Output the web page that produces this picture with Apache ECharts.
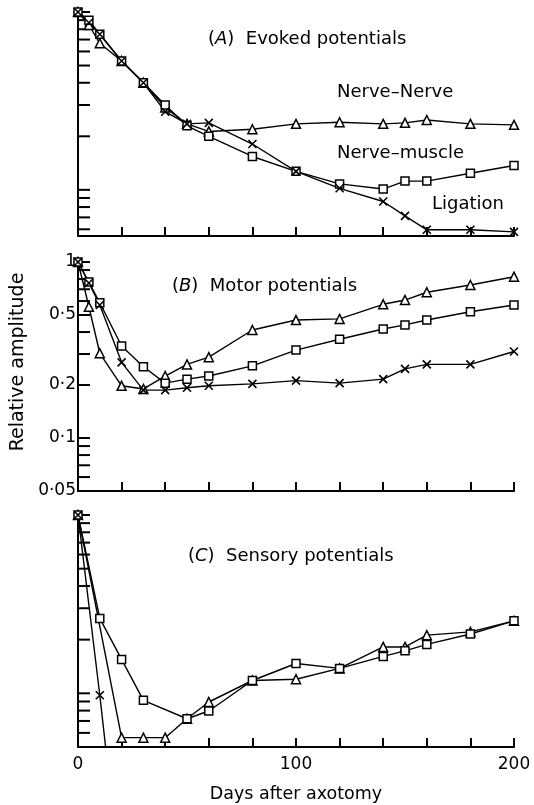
<!DOCTYPE html>
<html>
<head>
<meta charset="utf-8">
<title>Potentials after axotomy</title>
<script src="https://cdn.jsdelivr.net/npm/echarts@6/dist/echarts.min.js"></script>
<style>
  html, body { margin: 0; padding: 0; background: #fff; }
  #chart { width: 534px; height: 805px; }
</style>
</head>
<body>
<div id="chart"></div>
<script>
// days after axotomy
var daysAB = [0, 5, 10, 20, 30, 40, 50, 60, 80, 100, 120, 140, 150, 160, 180, 200];

// (A) evoked potentials
var evokedNerve  = [1, 0.845, 0.667, 0.53, 0.40, 0.29, 0.235, 0.213, 0.219, 0.235, 0.24, 0.235, 0.238, 0.247, 0.235, 0.232];
var evokedMuscle = [1, 0.90, 0.75, 0.53, 0.40, 0.30, 0.229, 0.20, 0.154, 0.127, 0.108, 0.101, 0.112, 0.112, 0.124, 0.137];
var evokedLig    = [1, 0.87, 0.75, 0.53, 0.40, 0.275, 0.235, 0.238, 0.181, 0.127, 0.102, 0.086, 0.0714, 0.0596, 0.0596, 0.058];

// (B) motor potentials
var motorNerve  = [1, 0.557, 0.303, 0.198, 0.19, 0.225, 0.262, 0.288, 0.411, 0.468, 0.475, 0.575, 0.608, 0.673, 0.74, 0.825];
var motorMuscle = [1, 0.77, 0.587, 0.333, 0.254, 0.205, 0.216, 0.225, 0.257, 0.316, 0.364, 0.416, 0.439, 0.468, 0.522, 0.57];
var motorLig    = [1, 0.76, 0.57, 0.269, 0.187, 0.187, 0.193, 0.198, 0.203, 0.212, 0.205, 0.216, 0.247, 0.262, 0.262, 0.31];

// (C) sensory potentials
var daysSensNerve = [0, 20, 30, 40, 50, 60, 80, 100, 120, 140, 150, 160, 180, 200];
var sensNerve     = [1, 0.0564, 0.0564, 0.0564, 0.072, 0.0894, 0.118, 0.12, 0.138, 0.182, 0.182, 0.212, 0.221, 0.255];
var daysSensMuscle = [0, 10, 20, 30, 50, 60, 80, 100, 120, 140, 150, 160, 180, 200];
var sensMuscle     = [1, 0.263, 0.155, 0.0913, 0.072, 0.0796, 0.118, 0.147, 0.138, 0.161, 0.173, 0.188, 0.215, 0.255];
var daysSensLig = [0, 10, 20];
var sensLig     = [1, 0.0975, 0.008];

// log tick marks and labelled values
var logTicks = [1, 0.9, 0.8, 0.7, 0.6, 0.5, 0.4, 0.3, 0.2, 0.1, 0.09, 0.08, 0.07, 0.06, 0.05];
var motorLabelVals = [1, 0.5, 0.2, 0.1, 0.05];
var motorLabels = ['1', '0·5', '0·2', '0·1', '0·05'];

var font = '"DejaVu Sans", Verdana, sans-serif';
var crossPath = 'path://M0,0L10,10M10,0L0,10';

function pairs(xs, ys) {
  return xs.map(function (x, i) { return [x, ys[i]]; });
}

function line(grid, data, kind) {
  var s = {
    type: 'line',
    xAxisIndex: grid,
    yAxisIndex: grid,
    data: data,
    lineStyle: { color: '#000', width: 1.4 },
    symbolKeepAspect: true,
    animation: false,
    clip: true
  };
  if (kind === 'tri') {
    s.symbol = 'triangle'; s.symbolSize = 9;
    s.itemStyle = { color: '#fff', borderColor: '#000', borderWidth: 1.5 };
  } else if (kind === 'sq') {
    s.symbol = 'rect'; s.symbolSize = 8;
    s.itemStyle = { color: '#fff', borderColor: '#000', borderWidth: 1.5 };
  } else {
    s.symbol = crossPath; s.symbolSize = 8; s.z = 3;
    s.itemStyle = { color: '#000', borderColor: '#000', borderWidth: 1.6 };
  }
  return s;
}

var grids = [
  { left: 78, right: 20, top: 12, height: 224 },
  { left: 78, right: 20, top: 262, height: 229 },
  { left: 78, right: 20, top: 515, height: 232 }
];
var yMins = [0.055, 0.05, 0.05];

var xAxes = grids.map(function (g, i) {
  return {
    type: 'value', gridIndex: i, min: 0, max: 200, interval: 20,
    axisLine: { onZero: false, lineStyle: { color: '#000', width: 2 } },
    axisTick: { inside: true, length: 9, lineStyle: { color: '#000', width: 2 } },
    splitLine: { show: false },
    axisLabel: {
      show: i === 2, margin: 9, color: '#000', fontFamily: font, fontSize: 17,
      formatter: function (v) { return v % 100 === 0 ? String(v) : ''; }
    },
    name: i === 2 ? 'Days after axotomy' : '',
    nameLocation: 'middle', nameGap: 38,
    nameTextStyle: { color: '#000', fontFamily: font, fontSize: 17.5 }
  };
});

var yAxes = grids.map(function (g, i) {
  return {
    type: 'log', logBase: 10, gridIndex: i, min: yMins[i], max: 1,
    axisLine: { onZero: false, lineStyle: { color: '#000', width: 2 } },
    axisTick: { show: false },
    axisLabel: { show: false },
    splitLine: { show: false }
  };
});

var chart = echarts.init(document.getElementById('chart'), null, { renderer: 'canvas' });

var titleStyle = {
  color: '#000', fontFamily: font, fontSize: 18, fontWeight: 'normal',
  rich: { i: { fontStyle: 'italic', fontWeight: 'normal', color: '#000', fontFamily: font, fontSize: 18 } }
};

chart.setOption({
  backgroundColor: '#fff',
  animation: false,
  grid: grids,
  xAxis: xAxes,
  yAxis: yAxes,
  title: [
    { text: '({i|A})  Evoked potentials', left: 208, top: 30, textStyle: titleStyle, padding: 0 },
    { text: '({i|B})  Motor potentials', left: 172, top: 277, textStyle: titleStyle, padding: 0 },
    { text: '({i|C})  Sensory potentials', left: 188, top: 547, textStyle: titleStyle, padding: 0 }
  ],
  series: [
    line(0, pairs(daysAB, evokedNerve), 'tri'),
    line(0, pairs(daysAB, evokedMuscle), 'sq'),
    line(0, pairs(daysAB, evokedLig), 'x'),
    line(1, pairs(daysAB, motorNerve), 'tri'),
    line(1, pairs(daysAB, motorMuscle), 'sq'),
    line(1, pairs(daysAB, motorLig), 'x'),
    line(2, pairs(daysSensNerve, sensNerve), 'tri'),
    line(2, pairs(daysSensMuscle, sensMuscle), 'sq'),
    line(2, pairs(daysSensLig, sensLig), 'x')
  ]
});

// log ticks and labels, placed through the axes' own scales
var graphics = [];
grids.forEach(function (g, i) {
  var x0 = chart.convertToPixel({ xAxisIndex: i }, 0);
  logTicks.forEach(function (v) {
    if (v < yMins[i] - 1e-9) return;
    var y = chart.convertToPixel({ yAxisIndex: i }, v);
    graphics.push({
      type: 'line', silent: true,
      shape: { x1: x0, y1: y, x2: x0 + 12, y2: y },
      style: { stroke: '#000', lineWidth: 2 }
    });
  });
});
var bx = chart.convertToPixel({ xAxisIndex: 1 }, 0);
motorLabelVals.forEach(function (v, k) {
  graphics.push({
    type: 'text', silent: true,
    x: bx - 2, y: chart.convertToPixel({ yAxisIndex: 1 }, v),
    style: { text: motorLabels[k], fill: '#000', font: '17px ' + font, textAlign: 'right', textVerticalAlign: 'middle' }
  });
});
graphics.push({
  type: 'text', silent: true, x: 18, y: 362, rotation: Math.PI / 2,
  style: { text: 'Relative amplitude', fill: '#000', font: '19px ' + font, textAlign: 'center', textVerticalAlign: 'middle' }
});
[['Nerve–Nerve', 337, 92], ['Nerve–muscle', 337, 153], ['Ligation', 432, 204]].forEach(function (t) {
  graphics.push({
    type: 'text', silent: true, x: t[1], y: t[2],
    style: { text: t[0], fill: '#000', font: '18px ' + font, textAlign: 'left', textVerticalAlign: 'middle' }
  });
});
chart.setOption({ graphic: graphics });
</script>
</body>
</html>
